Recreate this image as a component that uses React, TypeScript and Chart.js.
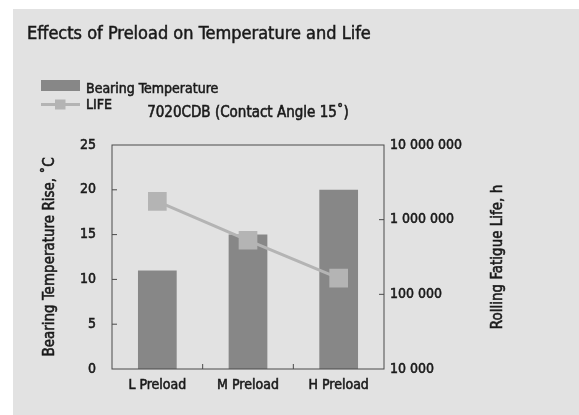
import React, { useEffect, useRef } from 'react';
import { Chart, registerables } from 'chart.js';

Chart.register(...registerables);

// ---- data ----
const categories = ['L Preload', 'M Preload', 'H Preload'];
const temperatureRise = [11, 15, 20];
const fatigueLife = [1760000, 530000, 165000];
const temperatureTicks = [0, 5, 10, 15, 20, 25];
const lifeTicks = [10000, 100000, 1000000, 10000000];

const TITLE = 'Effects of Preload on Temperature and Life';
const SUBTITLE = '7020CDB (Contact Angle 15˚)';
const LEFT_TITLE = 'Bearing Temperature Rise, ˚C';
const RIGHT_TITLE = 'Rolling Fatigue Life, h';
const BAR_LABEL = 'Bearing Temperature';
const LINE_LABEL = 'LIFE';

// ---- style ----
const FONT = '"DejaVu Sans Condensed", "DejaVu Sans", sans-serif';
const TEXT = '#1a1a1a';
const AXIS = '#4a4a4a';
const BAR = '#878787';
const LINE = '#b4b4b4';
const BG = '#e2e2e2';
const STROKE = 0.55;

const W = 566;
const H = 406;

const fmt = (v: number) => String(Math.round(v)).replace(/\B(?=(\d{3})+(?!\d))/g, ' ');

function boldText(ctx: CanvasRenderingContext2D, text: string, x: number, y: number, sw = STROKE) {
  ctx.fillText(text, x, y);
  ctx.lineWidth = sw;
  ctx.strokeStyle = ctx.fillStyle as string;
  ctx.strokeText(text, x, y);
}

const decorPlugin = {
  id: 'decor',
  afterDraw(chart: any) {
    const { ctx, chartArea: a, scales } = chart;
    ctx.save();
    // frame
    ctx.strokeStyle = AXIS;
    ctx.lineWidth = 1;
    ctx.strokeRect(a.left, a.top, a.right - a.left, a.bottom - a.top);
    // inward tick marks
    const TL = 5;
    ctx.beginPath();
    temperatureTicks.slice(1, -1).forEach((v) => {
      const y = scales.y.getPixelForValue(v);
      ctx.moveTo(a.left, y);
      ctx.lineTo(a.left + TL, y);
    });
    lifeTicks.slice(1, -1).forEach((v) => {
      const y = scales.y2.getPixelForValue(v);
      ctx.moveTo(a.right, y);
      ctx.lineTo(a.right - TL, y);
    });
    for (let i = 0; i < categories.length - 1; i++) {
      const x = (scales.x.getPixelForValue(i) + scales.x.getPixelForValue(i + 1)) / 2;
      ctx.moveTo(x, a.bottom);
      ctx.lineTo(x, a.bottom - TL);
    }
    ctx.stroke();

    // title
    ctx.fillStyle = TEXT;
    ctx.textAlign = 'left';
    ctx.textBaseline = 'alphabetic';
    ctx.font = `18px ${FONT}`;
    boldText(ctx, TITLE, 14, 30, 0.5);

    // legend
    const ds = chart.data.datasets;
    ctx.fillStyle = ds[0].backgroundColor;
    ctx.fillRect(28, 71, 39, 11);
    ctx.strokeStyle = ds[1].borderColor;
    ctx.lineWidth = 3;
    ctx.beginPath();
    ctx.moveTo(28, 95.5);
    ctx.lineTo(67, 95.5);
    ctx.stroke();
    ctx.fillStyle = ds[1].pointBackgroundColor;
    ctx.fillRect(42, 90.5, 10.5, 10);
    ctx.fillStyle = TEXT;
    ctx.font = `14px ${FONT}`;
    boldText(ctx, ds[0].label, 73, 84);
    boldText(ctx, ds[1].label, 73, 100);

    // subtitle
    ctx.font = `15px ${FONT}`;
    ctx.textAlign = 'center';
    boldText(ctx, SUBTITLE, (a.left + a.right) / 2, 108);

    // axis titles (both read bottom to top)
    const cy = (a.top + a.bottom) / 2;
    ctx.textBaseline = 'middle';
    ctx.save();
    ctx.translate(37, cy);
    ctx.rotate(-Math.PI / 2);
    boldText(ctx, LEFT_TITLE, 0, 0);
    ctx.restore();
    ctx.save();
    ctx.translate(485, cy);
    ctx.rotate(-Math.PI / 2);
    boldText(ctx, RIGHT_TITLE, 0, 0);
    ctx.restore();
    ctx.restore();
  },
};

export default function App() {
  const ref = useRef<HTMLCanvasElement>(null);

  useEffect(() => {
    if (!ref.current) return;
    const tickFont = { family: FONT, size: 14 };
    const chart = new Chart(ref.current, {
      type: 'bar',
      data: {
        labels: categories,
        datasets: [
          {
            type: 'bar',
            label: BAR_LABEL,
            data: temperatureRise,
            backgroundColor: BAR,
            borderWidth: 0,
            barPercentage: 0.427,
            categoryPercentage: 1,
            yAxisID: 'y',
            order: 1,
          },
          {
            type: 'line',
            label: LINE_LABEL,
            data: fatigueLife,
            borderColor: LINE,
            borderWidth: 3,
            backgroundColor: LINE,
            pointBackgroundColor: LINE,
            pointBorderColor: LINE,
            pointBorderWidth: 0,
            pointStyle: 'rect',
            pointRadius: 13.2,
            pointHoverRadius: 13.2,
            tension: 0,
            yAxisID: 'y2',
            order: 0,
          } as any,
        ],
      },
      options: {
        responsive: false,
        animation: false,
        events: [],
        layout: { padding: { top: 136, left: 0, right: 0, bottom: 0 } },
        plugins: {
          legend: { display: false },
          title: { display: false },
          tooltip: { enabled: false },
        },
        scales: {
          x: {
            offset: true,
            grid: { display: false, drawTicks: false },
            border: { display: false },
            ticks: {
              color: TEXT,
              padding: 8,
              font: tickFont,
              textStrokeColor: TEXT,
              textStrokeWidth: STROKE,
            },
            afterFit: (s: any) => {
              s.height = 46;
            },
          },
          y: {
            position: 'left',
            min: 0,
            max: 25,
            grid: { display: false, drawTicks: false },
            border: { display: false },
            afterBuildTicks: (s: any) => {
              s.ticks = temperatureTicks.map((v) => ({ value: v }));
            },
            ticks: {
              color: TEXT,
              padding: 16,
              font: tickFont,
              textStrokeColor: TEXT,
              textStrokeWidth: STROKE,
            },
            afterFit: (s: any) => {
              s.width = 99;
            },
          },
          y2: {
            type: 'logarithmic',
            position: 'right',
            min: 10000,
            max: 10000000,
            grid: { display: false, drawTicks: false },
            border: { display: false },
            afterBuildTicks: (s: any) => {
              s.ticks = lifeTicks.map((v) => ({ value: v }));
            },
            ticks: {
              color: TEXT,
              padding: 6,
              font: tickFont,
              textStrokeColor: TEXT,
              textStrokeWidth: STROKE,
              callback: (v: any) => fmt(Number(v)),
            },
            afterFit: (s: any) => {
              s.width = W - 371;
            },
          },
        },
      } as any,
      plugins: [decorPlugin],
    });
    return () => chart.destroy();
  }, []);

  return (
    <div
      style={{
        position: 'absolute',
        left: 13,
        top: 9,
        width: W,
        height: H,
        background: BG,
      }}
    >
      <canvas ref={ref} width={W} height={H} style={{ display: 'block', width: W, height: H }} />
    </div>
  );
}
